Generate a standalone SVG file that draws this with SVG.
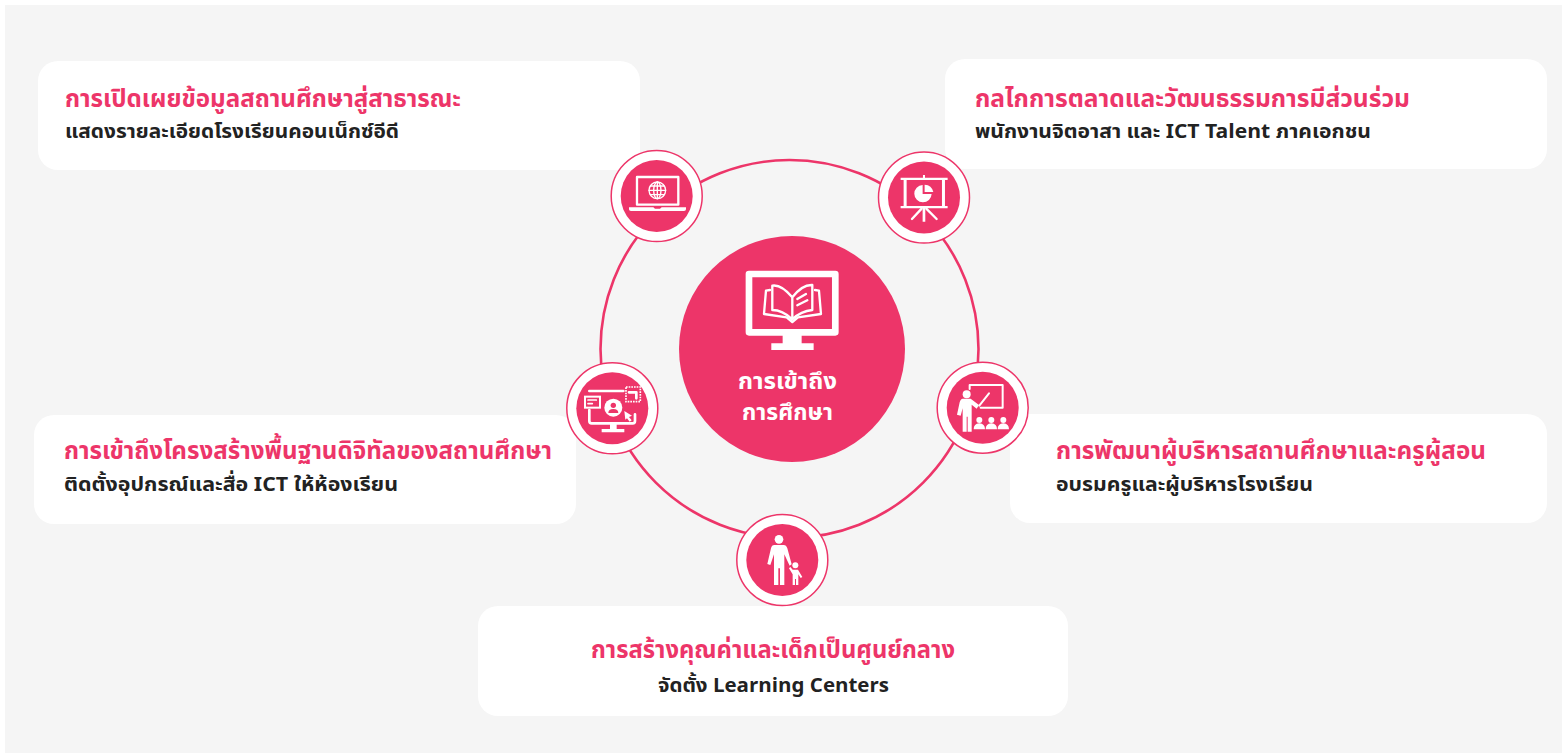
<svg xmlns="http://www.w3.org/2000/svg" width="1562" height="753" viewBox="0 0 1562 753">
<style>
text{font-family:"Noto Sans Thai","Noto Sans","Open Sans","DejaVu Sans",sans-serif;font-weight:700}
.t{font-size:25px;fill:#ed3569}
.s{font-size:20px;fill:#222}
.c{font-size:23px;fill:#fff}
.card{fill:#fff}
.halo{fill:#fff;stroke:#ed3569;stroke-width:1.5}
.disc{fill:#ed3569}
.w{fill:#fff}
.l{fill:none;stroke:#fff;stroke-linecap:round;stroke-linejoin:round}
.p{fill:#ed3569}
</style>
<rect width="1562" height="753" fill="#fff"/>
<rect x="5" y="5" width="1557" height="748" fill="#f5f5f5"/>
<g id="card-disclosure"><rect class="card" x="38" y="61" width="602" height="109" rx="20"/>
<text class="t" x="65" y="107" textLength="396" lengthAdjust="spacingAndGlyphs">การเปิดเผยข้อมูลสถานศึกษาสู่สาธารณะ</text>
<text class="s" x="65" y="138" textLength="334" lengthAdjust="spacingAndGlyphs">แสดงรายละเอียดโรงเรียนคอนเน็กซ์อีดี</text></g>
<g id="card-marketing"><rect class="card" x="945" y="59" width="602" height="110" rx="20"/>
<text class="t" x="975" y="107" textLength="435" lengthAdjust="spacingAndGlyphs">กลไกการตลาดและวัฒนธรรมการมีส่วนร่วม</text>
<text class="s" x="975" y="138" textLength="396" lengthAdjust="spacingAndGlyphs">พนักงานจิตอาสา และ ICT Talent ภาคเอกชน</text></g>
<g id="card-infrastructure"><rect class="card" x="34" y="415" width="542" height="109" rx="20"/>
<text class="t" x="64" y="459" textLength="488" lengthAdjust="spacingAndGlyphs">การเข้าถึงโครงสร้างพื้นฐานดิจิทัลของสถานศึกษา</text>
<text class="s" x="64" y="491" textLength="334" lengthAdjust="spacingAndGlyphs">ติดตั้งอุปกรณ์และสื่อ ICT ให้ห้องเรียน</text></g>
<g id="card-development"><rect class="card" x="1010" y="414" width="537" height="109" rx="20"/>
<text class="t" x="1056" y="459" textLength="430" lengthAdjust="spacingAndGlyphs">การพัฒนาผู้บริหารสถานศึกษาและครูผู้สอน</text>
<text class="s" x="1056" y="491" textLength="257" lengthAdjust="spacingAndGlyphs">อบรมครูและผู้บริหารโรงเรียน</text></g>
<g id="card-value"><rect class="card" x="478" y="606" width="590" height="110" rx="20"/>
<text class="t" x="591" y="658" textLength="364" lengthAdjust="spacingAndGlyphs">การสร้างคุณค่าและเด็กเป็นศูนย์กลาง</text>
<text class="s" x="658" y="692" textLength="231" lengthAdjust="spacingAndGlyphs">จัดตั้ง Learning Centers</text></g>
<g id="connectors"><circle cx="789.5" cy="349" r="189" fill="none" stroke="#ed3569" stroke-width="2.6"/></g>
<g id="center"><circle class="disc" cx="792" cy="349" r="113"/>
<g transform="translate(560 140) scale(.3333)">
<path class="w" fill-rule="evenodd" d="M567 392H826a10 10 0 0 1 10 10V577a10 10 0 0 1-10 10H725V610H761V630H634V610H668V587H567a10 10 0 0 1-10-10V402a10 10 0 0 1 10-10ZM577 412V567H816V412Z"/>
<g class="l" stroke-width="7"><path d="M697 472C675 446 655 434 637 437L637 510C660 510 680 522 697 538C714 522 735 512 757 510L757 435C738 434 717 446 697 472V538"/>
<path d="M630 450 618 452 612 522 680 532 697 546 714 532 783 522 777 452 765 450"/><path d="M712 477 738 462M712 496 742 481"/></g></g>
<text class="c"><tspan x="738" y="389" textLength="99" lengthAdjust="spacingAndGlyphs">การเข้าถึง</tspan><tspan x="742" y="420" textLength="91" lengthAdjust="spacingAndGlyphs">การศึกษา</tspan></text></g>
<g id="node-laptop"><circle class="halo" cx="656.7" cy="196" r="45.5"/><circle class="disc" cx="656.7" cy="196" r="36"/>
<g transform="translate(560 140) scale(.3333)">
<rect class="l" x="231" y="111" width="124" height="83" stroke-width="7"/>
<path class="w" d="M207 202H280L285 206H300L305 202H378V208Q378 213 372 213H213Q207 213 207 208Z"/>
<g class="l" stroke-width="4"><circle cx="292" cy="151" r="25"/><ellipse cx="292" cy="151" rx="11" ry="25"/><path d="M292 126V176M267 151H317M271 138H313M271 164H313"/></g></g></g>
<g id="node-presentation"><circle class="halo" cx="924" cy="197.5" r="45.5"/><circle class="disc" cx="924" cy="197.5" r="36"/>
<g transform="translate(560 140) scale(.3333)">
<path class="w" d="M1089 105H1095V113H1163V120H1155V198H1163V205H1096V245H1088V205H1022V198H1031V120H1022V113H1089ZM1040 120V198H1146V120Z"/>
<path class="l" stroke-width="7" d="M1085 206 1056 237M1099 206 1130 237"/>
<path class="w" d="M1088 135V162H1115A26 26 0 1 1 1088 135Z"/><path class="w" d="M1094 134A28 28 0 0 1 1120 156H1094Z"/></g></g>
<g id="node-access"><circle class="halo" cx="612.3" cy="408.3" r="45.5"/><circle class="disc" cx="612.3" cy="408.3" r="36"/>
<g transform="translate(555 355) scale(.3333)">
<path class="l" stroke-width="8" d="M103 108H205M103 165V198Q103 205 110 205H233Q240 205 240 198V178"/>
<path class="w" d="M165 205H185V222H208V232H140V222H165Z"/>
<rect x="90" y="125" width="45" height="33" fill="#ed3569" stroke="#fff" stroke-width="6"/><path class="l" stroke-width="5" d="M99 135H124M99 146H112"/>
<circle class="w" cx="175" cy="158" r="27"/><circle class="p" cx="175" cy="151" r="8"/><path class="p" d="M160 174Q160 162 175 162Q190 162 190 174Z"/>
<path class="w" d="M208 168 231 182 222 186 230 196 224 200 216 190 211 194Z"/>
<rect x="213" y="96" width="43" height="44" fill="#ed3569" stroke="#fff" stroke-width="5" stroke-dasharray="5 3"/>
<path class="l" stroke-width="8" d="M222 112H244V130"/></g></g>
<g id="node-teacher"><circle class="halo" cx="982.7" cy="407.7" r="45.5"/><circle class="disc" cx="982.7" cy="407.7" r="36"/>
<g transform="translate(930 355) scale(.3333)">
<path class="l" stroke-width="6" d="M119 102V90H218V158H152"/>
<path class="l" stroke-width="6" d="M148 152 177 115"/>
<circle class="w" cx="110" cy="118" r="12"/>
<path class="w" d="M98 131H122L147 150 140 161 125 149V230H113V185H110V230H98V160L92 182 81 179 89 142Q92 131 98 131Z"/>
<g class="w"><circle cx="148" cy="195" r="9"/><circle cx="184" cy="195" r="9"/><circle cx="220" cy="195" r="9"/>
<path d="M131 223Q131 206 148 205Q165 206 165 223ZM167 223Q167 206 184 205Q201 206 201 223ZM203 223Q203 206 220 205Q237 206 237 223Z"/></g></g></g>
<g id="node-child"><circle class="halo" cx="782.3" cy="560" r="45.5"/><circle class="disc" cx="782.3" cy="560" r="36"/>
<g transform="translate(725 505) scale(.3333)">
<circle class="w" cx="162" cy="103" r="13"/>
<path class="w" d="M148 120H176Q184 120 187 130L200 178 194 182 178 148V240H165V190H160V240H147V148L136 180 127 177 138 130Q140 120 148 120Z"/>
<circle class="w" cx="211" cy="181" r="9"/>
<path class="w" d="M203 194H219L232 216 227 219 220 208V240H213V222H210V240H203V208L192 190 196 186Z"/></g></g>
</svg>
